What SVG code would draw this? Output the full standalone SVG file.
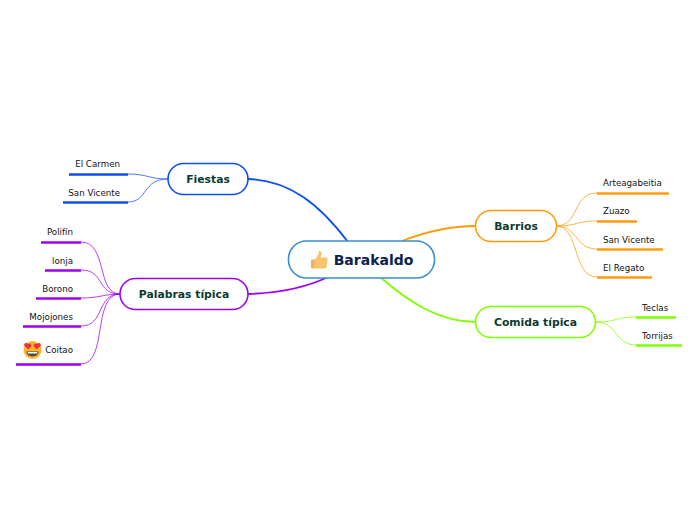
<svg xmlns="http://www.w3.org/2000/svg" width="696" height="520" viewBox="0 0 696 520">
<style>
text{font-family:"DejaVu Sans",Verdana,sans-serif}
.leaf{font-size:8.700px;fill:#111}
.main{font-size:10.800px;font-weight:700;fill:#0b3b30;text-anchor:middle}
.node{fill:#fff;stroke-width:1.600}
.thin,.thick{fill:none}
.thin{stroke-width:1}
.thick{stroke-width:1.800}
.ul{stroke-width:2.600;fill:none}
.blue{stroke:#0d4ff5}.orange{stroke:#ff9c0a}.green{stroke:#80ff00}.purple{stroke:#a000f0}
.soft{stroke-opacity:.75}
</style>
<g id="connectors">
<path class="thick blue" d="M248 179C290 180 320 205 348 242"/>
<path class="thick orange" d="M402 241C425 232 450 226 476 226"/>
<path class="thick green" d="M380 277C410 303 440 322 476 322"/>
<path class="thick purple" d="M248 294C280 293 305 288 328 277"/>
<path class="thin blue soft" d="M128 174C148 174 148 179 168 179"/>
<path class="thin blue soft" d="M128 202C148 202 142 179 168 179"/>
<path class="ul blue" d="M69 174.500H128M63 202.500H128"/>
<path class="thin purple soft" d="M81 242C108 242 96 294 120 294"/>
<path class="thin purple soft" d="M81 270C105 270 96 294 120 294"/>
<path class="thin purple soft" d="M81 298C100 298 104 294 120 294"/>
<path class="thin purple soft" d="M81 326C105 326 96 294 120 294"/>
<path class="thin purple soft" d="M81 364C108 364 92 294 120 294"/>
<path class="ul purple" d="M41 242.500H81M45 270.500H81M36 298.500H81M23 326.500H81M16 364.500H81"/>
<path class="thin orange soft" d="M556 226C580 226 572 193 597 193"/>
<path class="thin orange soft" d="M556 226C578 226 575 221 597 221"/>
<path class="thin orange soft" d="M556 226C578 226 575 249 597 249"/>
<path class="thin orange soft" d="M556 226C580 226 572 277 597 277"/>
<path class="ul orange" d="M597 193.500H669M597 221.500H637M597 249.500H663M597 277.500H652"/>
<path class="thin green soft" d="M596 322C618 322 614 317 636 317"/>
<path class="thin green soft" d="M596 322C618 322 614 345 636 345"/>
<path class="ul green" d="M636 317.500H676M636 345.500H682"/>
</g>
<g id="node-center">
<rect x="288.500" y="241" width="146" height="37" rx="18" fill="#fdfefe" stroke="#3a8fcc" stroke-width="1.600"/>
<g id="thumb">
<path d="M319 251C321 250.500 322 252 321.500 254L320.500 257.500H325.500C327.500 257.500 328 259 327.500 260.500L326.500 267C326.200 268 325.500 268.500 324.500 268.500H317C315.500 268.500 314.500 268 314 267.500V260C316.500 258 318.500 255 319 251Z" fill="#f7c56e"/>
<rect x="311" y="259.500" width="3.500" height="9" rx="1" fill="#eeb25a"/>
</g>
<text x="373.500" y="265" text-anchor="middle" font-size="14" font-weight="700" fill="#0c2350">Barakaldo</text>
</g>
<g id="node-fiestas">
<rect class="node blue" x="168" y="163.500" width="80" height="31" rx="15.500"/>
<text class="main" x="208" y="183">Fiestas</text>
</g>
<g id="node-barrios">
<rect class="node orange" x="475.500" y="210.500" width="81" height="31" rx="15.500"/>
<text class="main" x="516" y="230">Barrios</text>
</g>
<g id="node-comida">
<rect class="node green" x="475.500" y="306.500" width="120" height="31" rx="15.500"/>
<text class="main" x="535.500" y="326">Comida típica</text>
</g>
<g id="node-palabras">
<rect class="node purple" x="120" y="278.500" width="128" height="31" rx="15.500"/>
<text class="main" x="184" y="298">Palabras típica</text>
</g>
<g id="leaf-el-carmen"><text class="leaf" x="120" y="167" text-anchor="end">El Carmen</text></g>
<g id="leaf-san-vicente-1"><text class="leaf" x="120" y="196" text-anchor="end">San Vicente</text></g>
<g id="leaf-polifin"><text class="leaf" x="73" y="235" text-anchor="end">Polifín</text></g>
<g id="leaf-lonja"><text class="leaf" x="73" y="264" text-anchor="end">lonja</text></g>
<g id="leaf-borono"><text class="leaf" x="73" y="292" text-anchor="end">Borono</text></g>
<g id="leaf-mojojones"><text class="leaf" x="73" y="320" text-anchor="end">Mojojones</text></g>
<g id="leaf-coitao">
<circle cx="32.500" cy="350" r="9" fill="#f9b42c"/>
<path d="M26.500 351.500H38.500C38.500 358 26.500 358 26.500 351.500Z" fill="#4a4a4a"/>
<path d="M27.500 352H37.500L37 353.500H28Z" fill="#fff"/>
<path d="M28.500 349.500L24.300 345.800C23.300 343.300 26.800 342 28 344.300C29.500 342.500 32 344.500 31.200 346.500Z" fill="#e8323c"/>
<path d="M36.500 349.500L40.700 345.800C41.700 343.300 38.200 342 37 344.300C35.500 342.500 33 344.500 33.800 346.500Z" fill="#e8323c"/>
<text class="leaf" x="73" y="353" text-anchor="end">Coitao</text>
</g>
<g id="leaf-arteagabeitia"><text class="leaf" x="603" y="186">Arteagabeitia</text></g>
<g id="leaf-zuazo"><text class="leaf" x="603" y="214">Zuazo</text></g>
<g id="leaf-san-vicente-2"><text class="leaf" x="603" y="243">San Vicente</text></g>
<g id="leaf-el-regato"><text class="leaf" x="603" y="271">El Regato</text></g>
<g id="leaf-teclas"><text class="leaf" x="642" y="311">Teclas</text></g>
<g id="leaf-torrijas"><text class="leaf" x="642" y="339">Torrijas</text></g>
</svg>
